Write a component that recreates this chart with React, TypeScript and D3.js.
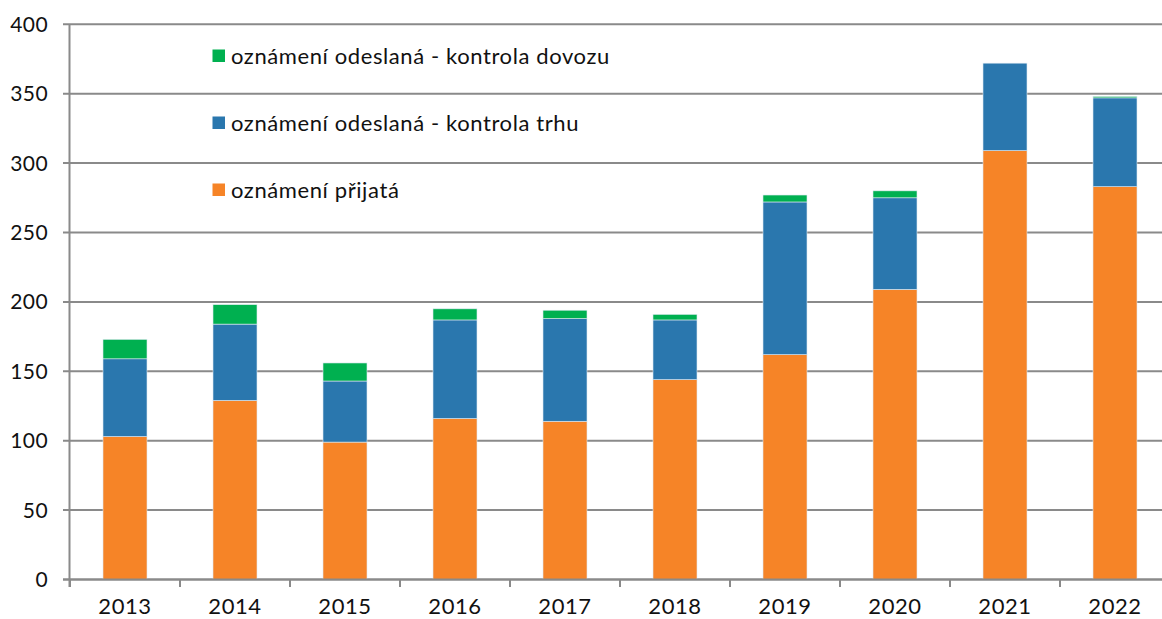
import React from "react";
import * as d3 from "d3";

const years = ["2013", "2014", "2015", "2016", "2017", "2018", "2019", "2020", "2021", "2022"];
const prijata = [103, 129, 99, 116, 114, 144, 162, 209, 309, 283];
const kontrolaTrhu = [56, 55, 44, 71, 74, 43, 110, 66, 63, 64];
const kontrolaDovozu = [14, 14, 13, 8, 6, 4, 5, 5, 0, 1];
const yTicks = [0, 50, 100, 150, 200, 250, 300, 350, 400];

const seriesKeys = ["prijata", "trhu", "dovozu"];
const seriesColors: Record<string, string> = {
  prijata: "#F68427",
  trhu: "#2A77AE",
  dovozu: "#00B050",
};
const legendItems = [
  { key: "dovozu", label: "oznámení odeslaná - kontrola dovozu" },
  { key: "trhu", label: "oznámení odeslaná - kontrola trhu" },
  { key: "prijata", label: "oznámení přijatá" },
];

const W = 1162;
const H = 619;
const FONT = "Lato, 'Open Sans', sans-serif";

export default function App() {
  const xOuter = d3.scaleBand<string>().domain(years).range([70, 1170]);
  const y = d3.scaleLinear().domain([0, 400]).range([579.5, 24.3]);

  const table = years.map((yr, i) => ({
    year: yr,
    prijata: prijata[i],
    trhu: kontrolaTrhu[i],
    dovozu: kontrolaDovozu[i],
  }));
  const stacked = d3.stack<any>().keys(seriesKeys)(table);
  const bw = 44;

  return (
    <svg
      width={W}
      height={H}
      style={{ position: "absolute", left: 0, top: 0, background: "#fff" }}
      fontFamily={FONT}
    >
      {yTicks.map((t) => (
        <g key={t}>
          <line x1={63} x2={W} y1={y(t)} y2={y(t)} stroke="#8A8A8A" strokeWidth={2} />
          <text x={48} y={y(t)} dy="0.36em" textAnchor="end" fontSize={21} letterSpacing={0.4} fill="#111">
            {t}
          </text>
        </g>
      ))}
      {stacked.map((s) => (
        <g key={s.key} fill={seriesColors[s.key]}>
          {s.map((d, i) =>
            d[1] - d[0] > 0 ? (
              <rect
                key={i}
                x={(xOuter(years[i]) as number) + xOuter.bandwidth() / 2 - bw / 2}
                y={y(d[1])}
                width={bw}
                height={y(d[0]) - y(d[1])}
                stroke="#dfe9f2"
                strokeWidth={0.6}
              />
            ) : null
          )}
        </g>
      ))}
      <line x1={69.5} x2={69.5} y1={24} y2={587} stroke="#8A8A8A" strokeWidth={2} />
      <line x1={63} x2={W} y1={579.5} y2={579.5} stroke="#8A8A8A" strokeWidth={2} />
      {years.map((yr) => (
        <line
          key={"t" + yr}
          x1={xOuter(yr) as number}
          x2={xOuter(yr) as number}
          y1={579.5}
          y2={587}
          stroke="#8A8A8A"
          strokeWidth={2}
        />
      ))}
      {years.map((yr) => (
        <text
          key={"l" + yr}
          x={(xOuter(yr) as number) + xOuter.bandwidth() / 2}
          y={614}
          textAnchor="middle"
          fontSize={22}
          letterSpacing={0.6}
          fill="#111"
        >
          {yr}
        </text>
      ))}
      {legendItems.map((it, i) => {
        const cy = 56 + i * 67;
        return (
          <g key={it.key}>
            <rect x={212.5} y={cy - 6.5} width={12.5} height={12.5} fill={seriesColors[it.key]} />
            <text x={231} y={cy} dy="0.36em" fontSize={22} letterSpacing={0.6} fill="#111">
              {it.label}
            </text>
          </g>
        );
      })}
    </svg>
  );
}
